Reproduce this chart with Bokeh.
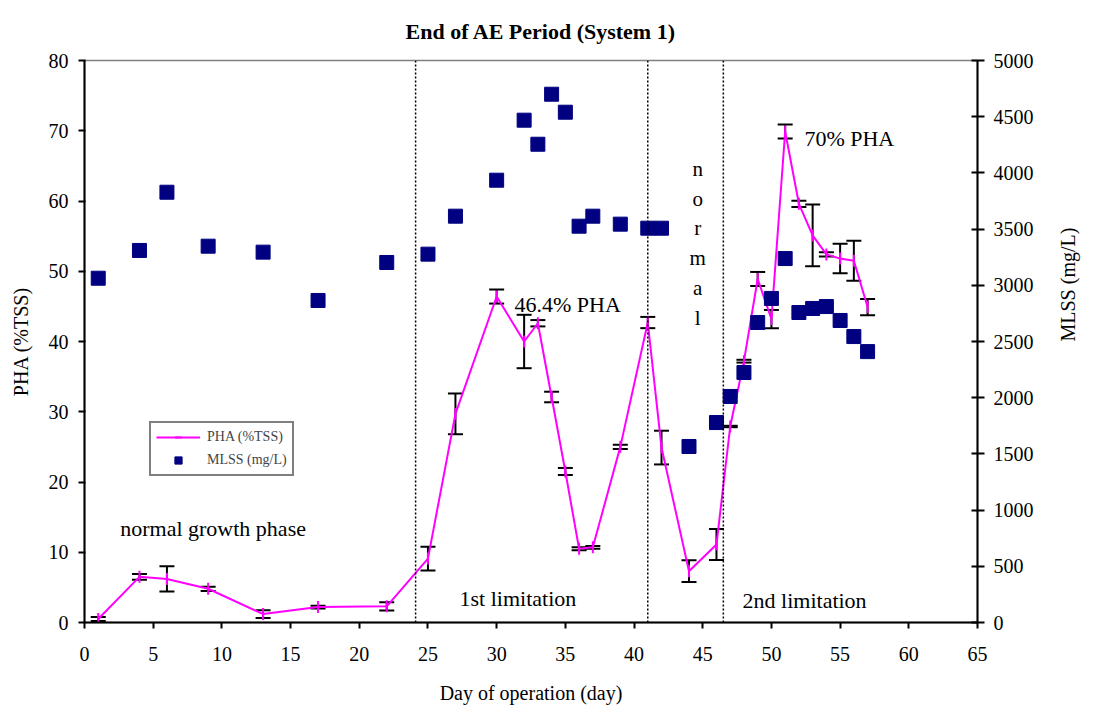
import numpy as np
from bokeh.plotting import figure
from bokeh.models import (Range1d, LinearAxis, Whisker, TeeHead, ColumnDataSource,
                          Legend, LegendItem, Label, FixedTicker, Span)
from bokeh.embed import file_html
from bokeh.resources import INLINE

# ---------------- data ----------------
days = [1, 4, 6, 9, 13, 17, 22, 25, 27, 30, 32, 33, 34, 35, 36, 37, 39, 41, 42,
        44, 46, 47, 48, 49, 50, 51, 52, 53, 54, 55, 56, 57]
pha = [0.5, 6.5, 6.2, 4.8, 1.2, 2.2, 2.3, 9.1, 29.7, 46.4, 40.0, 42.6, 32.1, 21.5,
       10.5, 10.7, 25.0, 42.7, 24.9, 7.3, 11.1, 27.9, 37.2, 48.9, 43.2, 69.9,
       59.6, 55.1, 52.4, 51.8, 51.5, 44.9]
pha_err = [0.3, 0.4, 1.8, 0.3, 0.55, 0.2, 0.6, 1.7, 2.9, 1.0, 3.8, 0.45, 0.75, 0.5,
           0.2, 0.2, 0.3, 0.8, 2.4, 1.55, 2.2, 0.1, 0.2, 1.0, 1.3, 1.0, 0.45, 4.4,
           0.3, 2.1, 2.85, 1.15]
mlss = [3063, 3310, 3828, 3348, 3295, 2865, 3203, 3277, 3615, 3935, 4469, 4255,
        4700, 4540, 3526, 3615, 3544, 3508, 3508, 1566, 1779, 2011, 2224, 2669,
        2883, 3238, 2758, 2794, 2811, 2687, 2544, 2410]
phase_bounds = [24.1, 41.0, 46.5]
x_ticks = list(range(0, 66, 5))
y_ticks = list(range(0, 81, 10))
y2_ticks = list(range(0, 5001, 500))
TITLE = "End of AE Period (System 1)"

FONT = "Liberation Serif"
MAGENTA = "#FF00FF"
NAVY = "#000080"

src = ColumnDataSource(dict(
    day=days, pha=pha, mlss=mlss,
    upper=[v + e for v, e in zip(pha, pha_err)],
    lower=[v - e for v, e in zip(pha, pha_err)],
))

p = figure(width=1094, height=719, output_backend="svg", toolbar_location=None,
           x_range=Range1d(0, 65), y_range=Range1d(0, 80),
           min_border_left=84, min_border_right=117, min_border_top=60,
           min_border_bottom=97, title=TITLE)
p.extra_y_ranges = {"mlss": Range1d(0, 5000)}
p.grid.visible = False
p.outline_line_color = "#808080"
p.outline_line_width = 1.5
p.background_fill_color = "white"
p.border_fill_color = "white"

p.title.text_font = FONT
p.title.text_font_size = "22px"
p.title.text_font_style = "bold"
p.title.text_color = "black"
p.title.align = "left"
p.title.offset = 321
p.title.standoff = 30
p.title.vertical_align = "top"

def style_axis(ax, tin, tout, standoff, lab_standoff):
    ax.axis_line_color = "black"
    ax.axis_line_width = 2
    ax.major_tick_line_color = "black"
    ax.major_tick_line_width = 2
    ax.major_tick_in = tin
    ax.major_tick_out = tout
    ax.minor_tick_line_color = None
    ax.major_label_text_font = FONT
    ax.major_label_text_font_size = "20px"
    ax.major_label_text_color = "black"
    ax.major_label_standoff = standoff
    ax.axis_label_text_font = FONT
    ax.axis_label_text_font_size = "20px"
    ax.axis_label_text_font_style = "normal"
    ax.axis_label_text_color = "black"
    ax.axis_label_standoff = lab_standoff

xa = p.xaxis[0]
xa.ticker = FixedTicker(ticks=x_ticks)
xa.axis_label = "Day of operation (day)"
style_axis(xa, 0, 6, 18, 18)

ya = p.yaxis[0]
ya.ticker = FixedTicker(ticks=y_ticks)
ya.axis_label = "PHA (%TSS)"
style_axis(ya, 1, 6, 10, 14)

y2 = LinearAxis(y_range_name="mlss", ticker=FixedTicker(ticks=y2_ticks),
                axis_label="MLSS (mg/L)")
style_axis(y2, 6, 7, 9, 31)
y2.axis_label_orientation = np.pi / 2
p.add_layout(y2, "right")

# phase boundaries
for b in phase_bounds:
    p.add_layout(Span(location=b, dimension="height", line_color="black",
                      line_dash="2 2", line_width=1.5))

# error bars
p.add_layout(Whisker(source=src, base="day", upper="upper", lower="lower",
                     line_color="black", line_width=2,
                     upper_head=TeeHead(size=15, line_color="black", line_width=2),
                     lower_head=TeeHead(size=15, line_color="black", line_width=2)))

line_r = p.line("day", "pha", source=src, line_color=MAGENTA, line_width=2)
mark_r = p.scatter("day", "pha", source=src, marker="dash", angle=np.pi / 2,
                   size=12, line_color=MAGENTA, line_width=2)
sq_r = p.scatter("day", "mlss", source=src, y_range_name="mlss", marker="square",
                 size=14, fill_color=NAVY, line_color=NAVY)

legend = Legend(items=[LegendItem(label="PHA (%TSS)", renderers=[line_r, mark_r]),
                       LegendItem(label="MLSS (mg/L)", renderers=[sq_r])],
                location=(65, 146), label_text_font=FONT,
                label_text_font_size="14px", glyph_width=44, glyph_height=18,
                spacing=5, padding=5, margin=0, border_line_color="black",
                border_line_width=2, background_fill_color="white",
                label_standoff=7)
p.add_layout(legend)

def lab(x, y, text, align="left", size="22px"):
    p.add_layout(Label(x=x, y=y, text=text, text_font=FONT, text_font_size=size,
                       text_color="black", text_align=align,
                       text_baseline="alphabetic"))

lab(2.6, 13.4, "normal growth phase")
lab(27.3, 3.4, "1st limitation")
lab(47.9, 3.2, "2nd limitation")
lab(31.3, 45.3, "46.4% PHA")
lab(52.4, 68.9, "70% PHA")
# vertical "normal" label between the two limitation phases
vword = "normal"
v_top, v_step = 64.6, 4.25
for i, ch in enumerate(vword):
    lab(44.64, v_top - i * v_step, ch, align="center", size="21px")

open("out.html", "w").write(file_html(p, INLINE))
